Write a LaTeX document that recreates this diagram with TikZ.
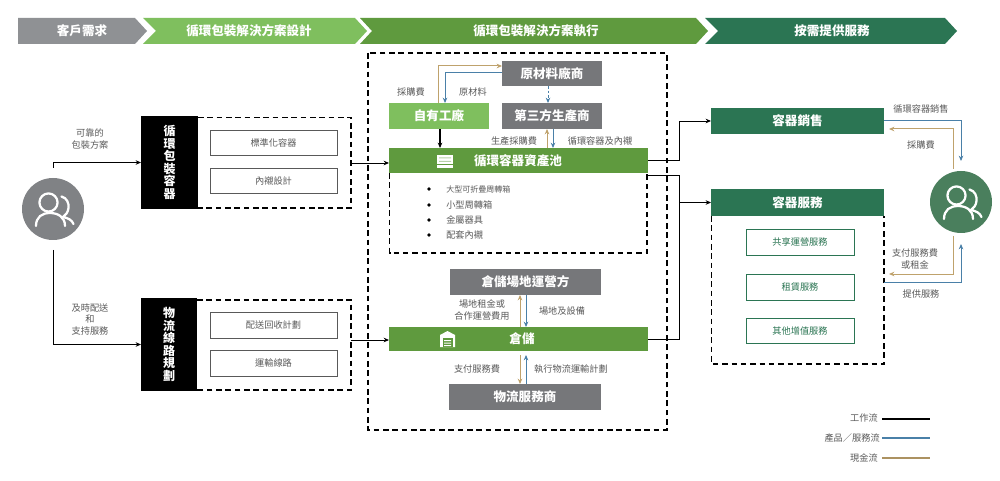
\documentclass[tikz,border=0pt]{standalone}
\usepackage{fontspec}
\setmainfont{Noto Sans CJK TC}
\usetikzlibrary{arrows.meta,calc}
\definecolor{cgrey}{HTML}{8F9194}
\definecolor{clight}{HTML}{7FBF5E}
\definecolor{cmid}{HTML}{5F9A3E}
\definecolor{cdark}{HTML}{2B7553}
\definecolor{cbox}{HTML}{76777A}
\definecolor{ccirc}{HTML}{808285}
\definecolor{ccircg}{HTML}{4A7F5D}
\definecolor{ctan}{HTML}{BFA26C}
\definecolor{cblue}{HTML}{4A80A8}
\definecolor{ctxt}{HTML}{5A5A5A}
\tikzset{
  sz/.style 2 args={minimum width=#1*0.75pt,minimum height=#2*0.75pt,inner sep=0pt,outer sep=0pt},
  bar/.style={font=\fontsize{9.4pt}{11pt}\selectfont\bfseries,text=white},
  hdr/.style={font=\fontsize{9.4pt}{11pt}\selectfont\bfseries,text=white,inner sep=0pt},
  blk/.style={fill=black,text=white,align=center,font=\fontsize{9pt}{9.4pt}\selectfont\bfseries},
  inbox/.style={draw=black!65,line width=0.65pt,fill=white,font=\fontsize{6.9pt}{8pt}\selectfont,text=ctxt},
  gbox/.style={draw=cdark,line width=0.65pt,fill=white,font=\fontsize{6.9pt}{8pt}\selectfont,text=cdark},
  lbl/.style={font=\fontsize{6.9pt}{8.8pt}\selectfont,text=ctxt,align=center,inner sep=0pt},
  item/.style={lbl,anchor=west},
  dashbox/.style={line width=0.8pt,dash pattern=on 4.2pt off 2.8pt},
  flow/.style={draw=black,line width=0.65pt,-{Stealth[length=4pt,width=3.4pt]}},
  plain/.style={draw=black,line width=0.65pt},
  tanflow/.style={draw=ctan,line width=0.75pt,-{Stealth[length=4pt,width=3.4pt]}},
  blueflow/.style={draw=cblue,line width=0.75pt,-{Stealth[length=4pt,width=3.4pt]}},
  people/.pic={
    \draw[white,line width=1.7pt,line cap=round] (-4.5,-6.5) circle[radius=6.8pt];
    \draw[white,line width=1.7pt,line cap=round] (-17,17) .. controls (-17,8) and (-11,4) .. (-3,4) .. controls (5,4) and (12,8) .. (12,17);
    \draw[white,line width=1.7pt,line cap=round] (8.5,-12.5) .. controls (14,-11) and (16,-6) .. (15.5,-1) .. controls (15,3) and (13,6) .. (10,8) .. controls (15,9) and (19,11) .. (20.5,15);
  },
}
\begin{document}
\begin{tikzpicture}[x=0.75pt,y=-0.75pt]
\useasboundingbox (0,0) rectangle (1000,481);
\fill[white] (0,0) rectangle (1000,481);
% header chevrons
\fill[cgrey] (18,18) -- (135,18) -- (147,31) -- (135,44) -- (18,44) -- cycle;
\fill[clight] (143,18) -- (355,18) -- (367,31) -- (355,44) -- (143,44) -- (156,31) -- cycle;
\fill[cmid] (360,18) -- (696,18) -- (708,31) -- (696,44) -- (360,44) -- (372,31) -- cycle;
\fill[cdark] (705,18) -- (945,18) -- (957,31) -- (945,44) -- (705,44) -- (718,31) -- cycle;
\node[hdr] (h1) at (82,31) {客戶需求};
\node[hdr] (h2) at (249,31) {循環包裝解決方案設計};
\node[hdr] (h3) at (536,31) {循環包裝解決方案執行};
\node[hdr] (h4) at (832,31) {按需提供服務};
% dashed frames
\draw[dashbox] (368,53) rectangle (667,430);
\draw[dashbox] (198,117.5) -- (351,117.5) -- (351,208) -- (198,208);
\draw[dashbox] (197,300) -- (351,300) -- (351,390) -- (197,390);
\draw[dashbox] (389.5,173) -- (389.5,253) -- (647,253) -- (647,173);
\draw[dashbox] (711.5,216) -- (711.5,364) -- (884,364) -- (884,216);
% left customer
\node[circle,fill=ccirc,minimum size=46.5pt,inner sep=0pt] (pl) at (53,209) {};
\pic at (pl.center) {people};
\node[blk,sz={57}{93}] (b1) at (169.5,162.5) {循\\環\\包\\裝\\容\\器};
\node[blk,sz={56}{93}] (b2) at (169,344.5) {物\\流\\線\\路\\規\\劃};
\node[inbox,sz={127}{25}] (i1) at (273.5,142.5) {標準化容器};
\node[inbox,sz={127}{25}] (i2) at (273.5,180.5) {內襯設計};
\node[inbox,sz={127}{26}] (i3) at (273.5,325) {配送回收計劃};
\node[inbox,sz={127}{26}] (i4) at (273.5,363) {運輸線路};
\node[lbl] (t1) at (90,139) {可靠的\\包裝方案};
\node[lbl] (t2) at (90,319.5) {及時配送\\和\\支持服務};
\coordinate (plu) at (53,168);
\coordinate (pld) at (53,250);
\coordinate (d1) at (351,163);
\coordinate (d2) at (351,340);
\draw[flow] (plu) |- (b1.west);
\draw[flow] (pld) |- (b2.west);
% centre
\node[sz={100}{25},fill=cbox,bar] (raw) at (552,73.5) {原材料廠商};
\node[sz={100}{26},fill=cbox,bar] (third) at (552,116) {第三方生產商};
\node[sz={100}{26},fill=clight,bar] (own) at (439,116) {自有工廠};
\node[sz={259}{25},fill=cmid] (pool) at (518.5,160.5) {};
\node[bar] (poolt) at (518,161) {循環容器資產池};
\node[sz={151}{26},fill=cbox,bar] (wop) at (525.5,282) {倉儲場地運營方};
\node[sz={259}{24},fill=cmid] (ware) at (518.5,339) {};
\node[bar] (waret) at (522,339) {倉儲};
\node[sz={152}{26},fill=cbox,bar] (lsp) at (525,397) {物流服務商};
% icons
\fill[white] (437,155) rectangle (453,168);
\fill[cmid!45!white] (439,157.5) rectangle (451,158.5) (439,161) rectangle (451,162);
\fill[cmid] (437,163.8) rectangle (453,164.6);
\fill[white] (440,347) -- (440,335) -- (447.5,331) -- (455,335) -- (455,347) -- cycle;
\fill[cmid] (442.5,338) rectangle (452.5,347);
\fill[white] (444,340) rectangle (451,341) (444,342.5) rectangle (451,343.5) (444,345) rectangle (451,346);
% bullets
\foreach \n/\yy in {a/189,b/205,c/220,d/235}{\fill (429,\yy) circle[radius=1.4pt];}
\node[item,font=\fontsize{6pt}{7pt}\selectfont] (l1) at (446,189) {大型可折疊周轉箱};
\node[item] (l2) at (446,205) {小型周轉箱};
\node[item] (l3) at (446,220) {金屬器具};
\node[item] (l4) at (446,235) {配套內襯};
% centre labels
\node[lbl] (t3) at (411,92) {採購費};
\node[lbl] (t4) at (473,92) {原材料};
\node[lbl] (t5) at (514,141) {生產採購費};
\node[lbl] (t6) at (600,141) {循環容器及內襯};
\node[lbl] (t7) at (482,310) {場地租金或\\合作運營費用};
\node[lbl] (t8) at (562,311) {場地及設備};
\node[lbl] (t9) at (477,369) {支付服務費};
\node[lbl] (t10) at (571,369) {執行物流運輸計劃};
% centre connectors
\coordinate (rawtan) at (438,66);
\coordinate (rawblue) at (445,73);
\draw[tanflow] (438,0 |- own.north) -- (rawtan) -- (raw.west |- rawtan);
\draw[blueflow] (raw.west |- rawblue) -- (rawblue) -- (445,0 |- own.north);
\draw[flow,line width=0.9pt] (440,0 |- own.south) -- (440,0 |- pool.north);
\draw[blueflow,dash pattern=on 2pt off 1.5pt] (548,0 |- raw.south) -- (548,0 |- third.north);
\draw[tanflow] (547,0 |- pool.north) -- (547,0 |- third.south);
\draw[blueflow] (553,0 |- third.south) -- (553,0 |- pool.north);
\draw[tanflow] (520,0 |- ware.north) -- (520,0 |- wop.south);
\draw[blueflow] (526,0 |- wop.south) -- (526,0 |- ware.north);
\coordinate (wb) at (520,355);
\coordinate (wc) at (526,355);
\draw[tanflow] (wb) -- (wb |- lsp.north);
\draw[blueflow] (wc |- lsp.north) -- (wc);
\draw[flow] (d1) -- (pool.west |- d1);
\draw[flow] (d2) -- (ware.west |- d2);
% right
\node[sz={173}{26},fill=cdark,bar] (sale) at (797.5,121) {容器銷售};
\node[sz={173}{27},fill=cdark,bar] (serv) at (797.5,202.5) {容器服務};
\node[gbox,sz={108}{26}] (g1) at (800,242) {共享運營服務};
\node[gbox,sz={108}{26}] (g2) at (800,287) {租賃服務};
\node[gbox,sz={108}{25}] (g3) at (800,330.5) {其他增值服務};
\node[circle,fill=ccircg,minimum size=46.5pt,inner sep=0pt] (pr) at (961,202) {};
\pic at (pr.center) {people};
\coordinate (jx) at (679,0);
\coordinate (pool2) at (648,175);
\draw[flow] (pool.east) -- (jx |- pool.east) |- (sale.west);
\draw[plain] (pool2) -- (jx |- pool2) -- (jx |- serv.west);
\draw[flow] (ware.east) -- (jx |- ware.east) |- (serv.west);
\coordinate (prb) at (961,161);
\coordinate (prt) at (953,169);
\coordinate (prtt) at (953,129);
\coordinate (sa) at (889,129);
\coordinate (pru) at (953,236);
\coordinate (prv) at (953,274);
\coordinate (sb) at (889,274);
\coordinate (bs) at (884,282);
\coordinate (bt) at (961,282);
\coordinate (bu) at (961,244);
\draw[blueflow] (sale.east) -| (prb);
\draw[tanflow] (prt) -- (prtt) -- (sa);
\draw[tanflow] (pru) -- (prv) -- (sb);
\draw[blueflow] (bs) -- (bt) -- (bu);
\node[lbl] (t11) at (921,109) {循環容器銷售};
\node[lbl] (t12) at (921,145) {採購費};
\node[lbl] (t13) at (915,259) {支付服務費\\或租金};
\node[lbl] (t14) at (921,294) {提供服務};
% legend
\node[lbl,anchor=east] (k1) at (878,418) {工作流};
\node[lbl,anchor=east] (k2) at (880,438) {產品／服務流};
\node[lbl,anchor=east] (k3) at (878,458) {現金流};
\coordinate (e1) at (930,419);
\coordinate (e2) at (930,438);
\coordinate (e3) at (930,458);
\draw[black,line width=1.3pt] (882,419) -- (e1);
\draw[cblue,line width=1.3pt] (882,438) -- (e2);
\draw[ctan!90!black,line width=1.3pt] (882,458) -- (e3);
\end{tikzpicture}
\end{document}
